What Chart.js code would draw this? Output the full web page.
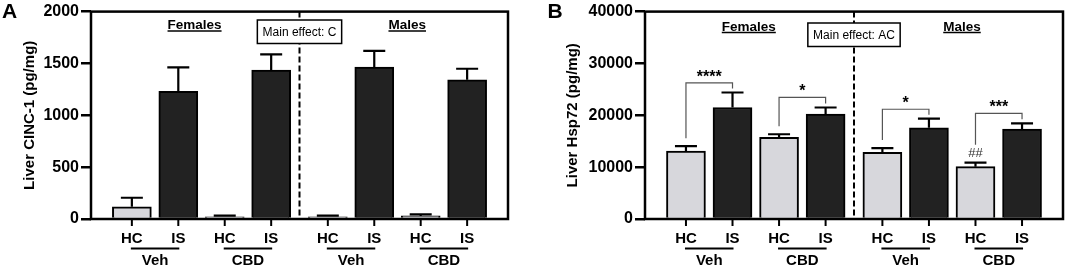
<!DOCTYPE html>
<html>
<head>
<meta charset="utf-8">
<script src="https://cdn.jsdelivr.net/npm/chart.js@4.4.1/dist/chart.umd.min.js"></script>
<style>
  html, body { margin: 0; padding: 0; background: #fff; }
  #wrap { position: relative; width: 1065px; height: 267px; overflow: hidden; }
  .panel { position: absolute; top: 0; height: 267px; }
</style>
</head>
<body>
<div id="wrap">
  <div class="panel" style="left:0;width:530px"><canvas id="chartA" width="530" height="267"></canvas></div>
  <div class="panel" style="left:530px;width:535px"><canvas id="chartB" width="535" height="267"></canvas></div>
</div>
<script>
// groups in order: Females-Veh, Females-CBD, Males-Veh, Males-CBD
const sexes = ['Females', 'Males'];
const treatments = ['Veh', 'CBD', 'Veh', 'CBD'];
const conditions = ['HC', 'IS'];

// Panel A: Liver CINC-1 (pg/mg)
const cincHC = [118, 22, 22, 30];
const cincHCErr = [87, 10, 10, 14];
const cincIS = [1230, 1435, 1466, 1342];
const cincISErr = [232, 152, 156, 107];
const cincTicks = [0, 500, 1000, 1500, 2000];

// Panel B: Liver Hsp72 (pg/mg)
const hspHC = [13100, 15750, 12870, 10100];
const hspHCErr = [950, 600, 800, 770];
const hspIS = [21500, 20250, 17600, 17350];
const hspISErr = [2900, 1250, 1750, 1100];
const hspTicks = [0, 10000, 20000, 30000, 40000];

// HC vs IS comparisons in panel B (bracket level in pg/mg)
const hspSigGroups = [0, 1, 2, 3];
const hspSigLabels = ['****', '*', '*', '***'];
const hspSigLevels = [26240, 23440, 21170, 20360];
// vs same-sex Veh HC
const hspHashGroups = [3];
const hspHashLabels = ['##'];

const FONT = "'Liberation Sans', Arial, Helvetica, sans-serif";
const SEX_GAP = 0.22;

function xPos(g, c) {
  return g * 2 + c + (g >= 2 ? SEX_GAP : 0);
}

function panelDeco(cfg) {
  return {
    id: 'panelDeco',
    afterDatasetsDraw(chart) {
      const { ctx, chartArea: a, scales: { x, y } } = chart;
      ctx.save();
      ctx.strokeStyle = '#000';
      ctx.fillStyle = '#000';

      // dashed divider between sexes
      const divX = x.getPixelForValue((xPos(1, 1) + xPos(2, 0)) / 2);
      ctx.setLineDash([6, 3]);
      ctx.lineWidth = 2;
      ctx.beginPath();
      ctx.moveTo(divX, a.top);
      ctx.lineTo(divX, a.bottom);
      ctx.stroke();
      ctx.setLineDash([]);

      // error bars (upper only)
      const means = [cfg.hc, cfg.is];
      const errs = [cfg.hcErr, cfg.isErr];
      ctx.lineWidth = 2.2;
      for (let c = 0; c < 2; c++) {
        for (let g = 0; g < 4; g++) {
          const px = x.getPixelForValue(xPos(g, c));
          const base = y.getPixelForValue(means[c][g]);
          const top = y.getPixelForValue(means[c][g] + errs[c][g]);
          ctx.beginPath();
          ctx.moveTo(px, base);
          ctx.lineTo(px, top);
          ctx.moveTo(px - 11, top);
          ctx.lineTo(px + 11, top);
          ctx.stroke();
        }
      }

      // frame
      ctx.lineWidth = 2.5;
      ctx.strokeRect(a.left, a.top, a.right - a.left, a.bottom - a.top);

      // x tick marks
      ctx.lineWidth = 2;
      for (let g = 0; g < 4; g++) {
        for (let c = 0; c < 2; c++) {
          const px = x.getPixelForValue(xPos(g, c));
          ctx.beginPath();
          ctx.moveTo(px, a.bottom);
          ctx.lineTo(px, a.bottom + 7);
          ctx.stroke();
        }
      }

      // x labels: HC / IS, underline, treatment
      ctx.textAlign = 'center';
      ctx.textBaseline = 'alphabetic';
      ctx.font = 'bold 15px ' + FONT;
      for (let g = 0; g < 4; g++) {
        const x0 = x.getPixelForValue(xPos(g, 0));
        const x1 = x.getPixelForValue(xPos(g, 1));
        ctx.fillText(conditions[0], x0, 243);
        ctx.fillText(conditions[1], x1, 243);
        ctx.lineWidth = 2;
        ctx.beginPath();
        ctx.moveTo(x0 - 1, 248.5);
        ctx.lineTo(x1 + 1, 248.5);
        ctx.stroke();
        ctx.fillText(treatments[g], (x0 + x1) / 2, 265);
      }

      // sex headers
      ctx.font = 'bold 13.5px ' + FONT;
      const hdr = [
        x.getPixelForValue((xPos(0, 0) + xPos(1, 1)) / 2 - 0.15),
        x.getPixelForValue((xPos(2, 0) + xPos(3, 1)) / 2 + 0.21)
      ];
      sexes.forEach((s, i) => {
        const w = ctx.measureText(s).width;
        ctx.fillText(s, hdr[i], cfg.hdrBase);
        ctx.lineWidth = 1.3;
        ctx.beginPath();
        ctx.moveTo(hdr[i] - w / 2, cfg.hdrBase + 2);
        ctx.lineTo(hdr[i] + w / 2, cfg.hdrBase + 2);
        ctx.stroke();
      });

      // main effect box
      ctx.font = '12px ' + FONT;
      const bw = ctx.measureText(cfg.effect).width + 10.5;
      const bh = 23.5;
      ctx.fillStyle = '#fff';
      ctx.fillRect(divX - bw / 2, cfg.boxTop, bw, bh);
      ctx.lineWidth = 1.5;
      ctx.strokeRect(divX - bw / 2, cfg.boxTop, bw, bh);
      ctx.fillStyle = '#000';
      ctx.textBaseline = 'middle';
      ctx.fillText(cfg.effect, divX, cfg.boxTop + bh / 2 + 0.5);

      // significance brackets
      if (cfg.sigGroups) {
        cfg.sigGroups.forEach((g, i) => {
          const x0 = x.getPixelForValue(xPos(g, 0));
          const x1 = x.getPixelForValue(xPos(g, 1));
          const yl = y.getPixelForValue(cfg.sigLevels[i]);
          const hasHash = cfg.hashGroups.includes(g);
          const leftEnd = y.getPixelForValue(cfg.hc[g] + cfg.hcErr[g]) - (hasHash ? 18 : 8);
          const rightEnd = y.getPixelForValue(cfg.is[g] + cfg.isErr[g]) - 4;
          ctx.strokeStyle = '#555';
          ctx.lineWidth = 1.2;
          ctx.beginPath();
          ctx.moveTo(x0, leftEnd);
          ctx.lineTo(x0, yl);
          ctx.lineTo(x1, yl);
          ctx.lineTo(x1, rightEnd);
          ctx.stroke();
          ctx.fillStyle = '#000';
          ctx.font = 'bold 16px ' + FONT;
          ctx.textBaseline = 'alphabetic';
          ctx.fillText(cfg.sigLabels[i], (x0 + x1) / 2, yl - 1);
        });
        cfg.hashGroups.forEach((g, i) => {
          const px = x.getPixelForValue(xPos(g, 0));
          const top = y.getPixelForValue(cfg.hc[g] + cfg.hcErr[g]);
          ctx.fillStyle = '#333';
          ctx.font = '13px ' + FONT;
          ctx.textBaseline = 'middle';
          ctx.fillText(cfg.hashLabels[i], px, top - 9);
        });
      }

      // y axis title
      ctx.fillStyle = '#000';
      ctx.font = 'bold 15px ' + FONT;
      ctx.textBaseline = 'middle';
      ctx.translate(cfg.titleX, (a.top + a.bottom) / 2);
      ctx.rotate(-Math.PI / 2);
      ctx.fillText(cfg.title, 0, 0);
      ctx.setTransform(1, 0, 0, 1, 0, 0);

      // panel letter
      ctx.font = 'bold 21px ' + FONT;
      ctx.textAlign = 'left';
      ctx.textBaseline = 'alphabetic';
      ctx.fillText(cfg.letter, cfg.letterX, 18);

      ctx.restore();
    }
  };
}

function makeChart(id, cfg) {
  const ds = (vals, c, color) => ({
    label: conditions[c],
    data: vals.map((v, g) => ({ x: xPos(g, c), y: v })),
    backgroundColor: color,
    borderColor: '#000',
    borderWidth: 2,
    borderSkipped: 'bottom',
    barThickness: 39,
    grouped: false
  });
  return new Chart(document.getElementById(id), {
    type: 'bar',
    data: { datasets: [ds(cfg.hc, 0, '#d7d7dc'), ds(cfg.is, 1, '#222222')] },
    options: {
      responsive: false,
      animation: false,
      devicePixelRatio: 1,
      layout: { padding: { left: 0, top: 11, right: cfg.padRight, bottom: 48 } },
      plugins: { legend: { display: false }, tooltip: { enabled: false } },
      scales: {
        x: { type: 'linear', display: false, offset: false, min: -0.88, max: 8.1 },
        y: {
          min: 0,
          max: cfg.ticks[cfg.ticks.length - 1],
          afterBuildTicks: s => { s.ticks = cfg.ticks.map(v => ({ value: v })); },
          afterFit: s => { s.width = cfg.axisX; },
          border: { display: false },
          grid: { drawOnChartArea: false, drawTicks: true, tickLength: 10, color: '#000', lineWidth: 2.5 },
          ticks: {
            color: '#000',
            padding: 2,
            font: { family: FONT, size: 16, weight: 'bold' },
            callback: v => String(v)
          }
        }
      }
    },
    plugins: [panelDeco(cfg)]
  });
}

makeChart('chartA', {
  hc: cincHC, hcErr: cincHCErr, is: cincIS, isErr: cincISErr, ticks: cincTicks,
  axisX: 91, padRight: 22, effect: 'Main effect: C', boxTop: 20, hdrBase: 29,
  title: 'Liver CINC-1 (pg/mg)', titleX: 29.5, letter: 'A', letterX: 2
});

makeChart('chartB', {
  hc: hspHC, hcErr: hspHCErr, is: hspIS, isErr: hspISErr, ticks: hspTicks,
  axisX: 115, padRight: 2, effect: 'Main effect: AC', boxTop: 23, hdrBase: 30.5,
  title: 'Liver Hsp72 (pg/mg)', titleX: 43, letter: 'B', letterX: 17.5,
  sigGroups: hspSigGroups, sigLabels: hspSigLabels, sigLevels: hspSigLevels,
  hashGroups: hspHashGroups, hashLabels: hspHashLabels
});
</script>
</body>
</html>
